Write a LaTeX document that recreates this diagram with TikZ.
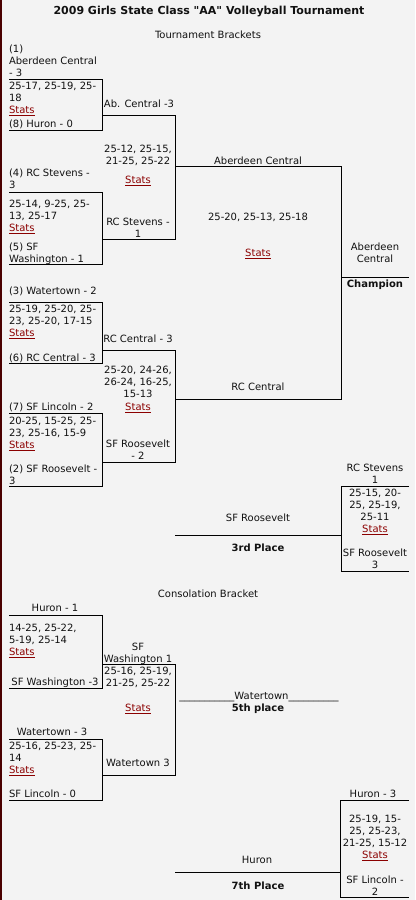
\documentclass[tikz,border=0pt]{standalone}
\usepackage{fontspec}
\setmainfont{DejaVu Sans}[Ligatures=TeXOff]
\definecolor{bgc}{HTML}{F3F3F3}
\definecolor{txtc}{HTML}{111111}
\definecolor{statc}{HTML}{8B0000}
\definecolor{edgec}{HTML}{4A0000}
\newcommand\fnt{\fontsize{7.5pt}{9pt}\selectfont}
\newcommand\fntb{\fontsize{7.5pt}{9pt}\selectfont\bfseries}
\newcommand\fntt{\fontsize{8.25pt}{10pt}\selectfont\bfseries}
\newcommand\fs{\rule{0pt}{6.75pt}}
\newcommand\st{\textcolor{statc}{\underline{Stats}}}
\newcommand\bracketR[4]{\draw[brk] (#1,#2) -| (#3,#4) -- (#1,#4);}
\newcommand\bracketL[4]{\draw[brk] (#3,#2) -| (#1,#4) -- (#3,#4);}
\tikzset{
  txt/.style={inner sep=0pt, outer sep=0pt, anchor=north, align=center, font=\fnt, text=txtc, yshift=4.3pt},
  ltxt/.style={txt, anchor=north west, align=left},
  btxt/.style={txt, font=\fntb},
  ttxt/.style={txt, font=\fntt},
  brk/.style={line width=0.75pt, draw=black},
}
\begin{document}
\begin{tikzpicture}[x=0.75pt,y=-0.75pt]
\fill[bgc] (0,0) rectangle (415,900);
\useasboundingbox (0,0) rectangle (415,900);
\fill[edgec] (0,0) rectangle (1.5,900);

% header
\node[ttxt] (title) at (209,11) {\fs2009 Girls State Class "AA" Volleyball Tournament};
\node[txt] (tb) at (208,35) {\fs Tournament Brackets};

% brackets
\bracketR{9}{79}{102}{130}
\bracketR{102}{115}{175}{239}
\bracketR{9}{192}{102}{264}
\bracketR{175}{166}{341}{399}
\draw[brk] (341,277) -- (409,277);
\bracketR{9}{302}{102}{363}
\bracketR{102}{350}{175}{462}
\bracketR{9}{413}{102}{486}
\draw[brk] (175,535) -- (341,535);
\bracketL{341}{486}{409}{571}
\bracketR{9}{615}{102}{688}
\bracketR{102}{664}{175}{775}
\bracketR{9}{739}{102}{800}
\draw[brk] (175,872) -- (340,872);
\bracketL{340}{800}{409}{897}

% quarterfinal 1
\node[ltxt] (q1a) at (9,49) {\fs(1)\\Aberdeen Central\\- 3};
\node[ltxt] (q1s) at (9,86) {\fs25-17, 25-19, 25-\\18\\\st};
\node[ltxt] (q1b) at (9,124) {\fs(8) Huron - 0};
\node[txt] (s1w) at (139,104) {\fs Ab. Central -3};
\node[txt] (s1s) at (138,149) {\fs25-12, 25-15,\\21-25, 25-22};
\node[txt] (s1st) at (138,180) {\fs\st};
% quarterfinal 2
\node[ltxt] (q2a) at (9,173) {\fs(4) RC Stevens -\\3};
\node[ltxt] (q2s) at (9,204) {\fs25-14, 9-25, 25-\\13, 25-17\\\st};
\node[ltxt] (q2b) at (9,247) {\fs(5) SF\\Washington - 1};
\node[txt] (s1l) at (138,222) {\fs RC Stevens -\\1};
% final
\node[txt] (f1) at (258,161) {\fs Aberdeen Central};
\node[txt] (fs) at (258,217) {\fs25-20, 25-13, 25-18};
\node[txt] (fst) at (258,253) {\fs\st};
\node[txt] (champ) at (375,247) {\fs Aberdeen\\Central};
\node[btxt] (champl) at (375,284) {\fs Champion};
% quarterfinal 3
\node[ltxt] (q3a) at (9,291) {\fs(3) Watertown - 2};
\node[ltxt] (q3s) at (9,309) {\fs25-19, 25-20, 25-\\23, 25-20, 17-15\\\st};
\node[ltxt] (q3b) at (9,358) {\fs(6) RC Central - 3};
\node[txt] (s2w) at (138,339) {\fs RC Central - 3};
\node[txt] (s2s) at (138,370) {\fs25-20, 24-26,\\26-24, 16-25,\\15-13};
\node[txt] (s2st) at (138,407) {\fs\st};
% quarterfinal 4
\node[ltxt] (q4a) at (9,407) {\fs(7) SF Lincoln - 2};
\node[ltxt] (q4s) at (9,421) {\fs20-25, 15-25, 25-\\23, 25-16, 15-9\\\st};
\node[ltxt] (q4b) at (9,469) {\fs(2) SF Roosevelt -\\3};
\node[txt] (s2l) at (138,444) {\fs SF Roosevelt\\- 2};
\node[txt] (f2) at (258,387) {\fs RC Central};
% third place
\node[txt] (t3a) at (375,468) {\fs RC Stevens\\1};
\node[txt] (t3s) at (375,493) {\fs25-15, 20-\\25, 25-19,\\25-11\\\st};
\node[txt] (t3b) at (375,553) {\fs SF Roosevelt\\3};
\node[txt] (t3w) at (258,518) {\fs SF Roosevelt};
\node[btxt] (t3l) at (258,548) {\fs 3rd Place};

% consolation
\node[txt] (cb) at (208,594) {\fs Consolation Bracket};
\node[txt] (c1a) at (55,608) {\fs Huron - 1};
\node[ltxt] (c1s) at (9,628) {\fs14-25, 25-22,\\5-19, 25-14\\\st};
\node[txt] (c1b) at (55,682) {\fs SF Washington -3};
\node[txt] (c5w) at (138,647) {\fs SF\\Washington 1};
\node[txt] (c5s) at (138,671) {\fs25-16, 25-19,\\21-25, 25-22};
\node[txt] (c5st) at (138,708) {\fs\st};
\node[txt] (c5r) at (259,696) {\fs\_\_\_\_\_\_\_\_\_\_\_Watertown\_\_\_\_\_\_\_\_\_\_};
\node[btxt] (c5l) at (258,708) {\fs 5th place};
\node[txt] (c2a) at (52,732) {\fs Watertown - 3};
\node[ltxt] (c2s) at (9,746) {\fs25-16, 25-23, 25-\\14\\\st};
\node[ltxt] (c2b) at (9,794) {\fs SF Lincoln - 0};
\node[txt] (c5l2) at (138,763) {\fs Watertown 3};
% seventh place
\node[txt] (c7a) at (373,794) {\fs Huron - 3};
\node[txt] (c7s) at (375,819) {\fs25-19, 15-\\25, 25-23,\\21-25, 15-12\\\st};
\node[txt] (c7b) at (375,880) {\fs SF Lincoln -\\2};
\node[txt] (c7w) at (257,860) {\fs Huron};
\node[btxt] (c7l) at (258,886) {\fs 7th Place};
\end{tikzpicture}
\end{document}
